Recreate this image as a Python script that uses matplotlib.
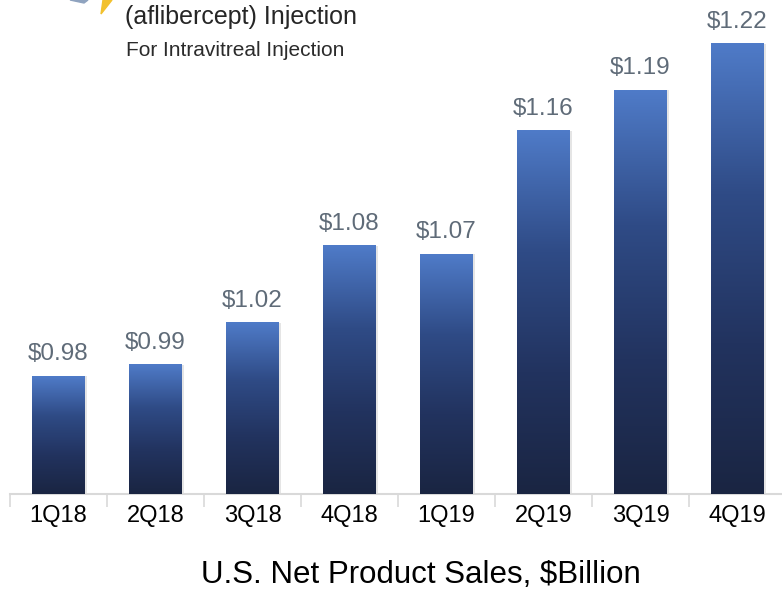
import matplotlib.pyplot as plt
import numpy as np
from matplotlib.colors import LinearSegmentedColormap
from matplotlib.patches import Polygon

quarters = ['1Q18', '2Q18', '3Q18', '4Q18', '1Q19', '2Q19', '3Q19', '4Q19']
# bar heights ($B); labels are the rounded values shown
sales = [0.982, 0.990, 1.020, 1.075, 1.069, 1.157, 1.186, 1.219]
value_labels = ['$0.98', '$0.99', '$1.02', '$1.08', '$1.07', '$1.16', '$1.19', '$1.22']

plt.rcParams['font.family'] = ['Liberation Sans', 'DejaVu Sans']

fig = plt.figure(figsize=(7.82, 5.89), dpi=100)
W, H = 782, 589
base_px = 494
ax = fig.add_axes([10 / W, (H - base_px) / H, 776 / W, base_px / H])
ymin, ymax = 0.8978, 1.2504

cmap = LinearSegmentedColormap.from_list('bar', ['#1a2542', '#22335f', '#2f4b86', '#4f7bc8'])
grad = np.linspace(0, 1, 256).reshape(-1, 1)
bw = 0.54

x = np.arange(len(quarters))
# soft shadow
ax.bar(x + 0.025, [s - ymin for s in sales], bw, bottom=ymin, color='#000000', alpha=0.10, zorder=1)
bars = ax.bar(x, [s - ymin for s in sales], bw, bottom=ymin, color='none', zorder=2)
for b in bars:
    x0 = b.get_x()
    ax.imshow(grad, cmap=cmap, origin='lower', aspect='auto',
              extent=[x0, x0 + b.get_width(), ymin, ymin + b.get_height()], zorder=3)
ax.set_xlim(-0.5, len(quarters) - 0.5)
ax.set_ylim(ymin, ymax)

for i, s in enumerate(sales):
    ax.text(i, s + 0.0114, value_labels[i], ha='center', va='baseline', fontsize=17.5, color='#5f6b78')

for sp in ['top', 'left', 'right']:
    ax.spines[sp].set_visible(False)
ax.spines['bottom'].set_color('#d9d9d9')
ax.spines['bottom'].set_linewidth(1.5)
ax.set_yticks([])
ax.set_xticks(x)
ax.set_xticklabels(quarters, fontsize=17, color='#000000')
ax.set_xticks(np.arange(-0.5, len(quarters) - 0.4, 1), minor=True)
ax.tick_params(axis='x', which='major', length=0, pad=8)
ax.tick_params(axis='x', which='minor', length=9, width=1.2, color='#d9d9d9')

fig.text(421 / W, (H - 583) / H, 'U.S. Net Product Sales, $Billion', ha='center', va='baseline',
         fontsize=22.5, color='#000000')

# logo fragment
fig.text(125 / W, (H - 24) / H, '(aflibercept) Injection', ha='left', va='baseline', fontsize=18,
         color='#262626')
fig.text(126 / W, (H - 56) / H, 'For Intravitreal Injection', ha='left', va='baseline', fontsize=15,
         color='#2b2b2b')
fig.patches.append(Polygon([[103 / W, 1.0], [112 / W, 1.0], [101 / W, (H - 14) / H]],
                           closed=True, transform=fig.transFigure, color='#f2c12e'))
fig.patches.append(Polygon([[70 / W, 1.0], [88 / W, 1.0], [84 / W, (H - 3) / H]],
                           closed=True, transform=fig.transFigure, color='#8fa3bf'))

fig.savefig('out.png', dpi=100)
